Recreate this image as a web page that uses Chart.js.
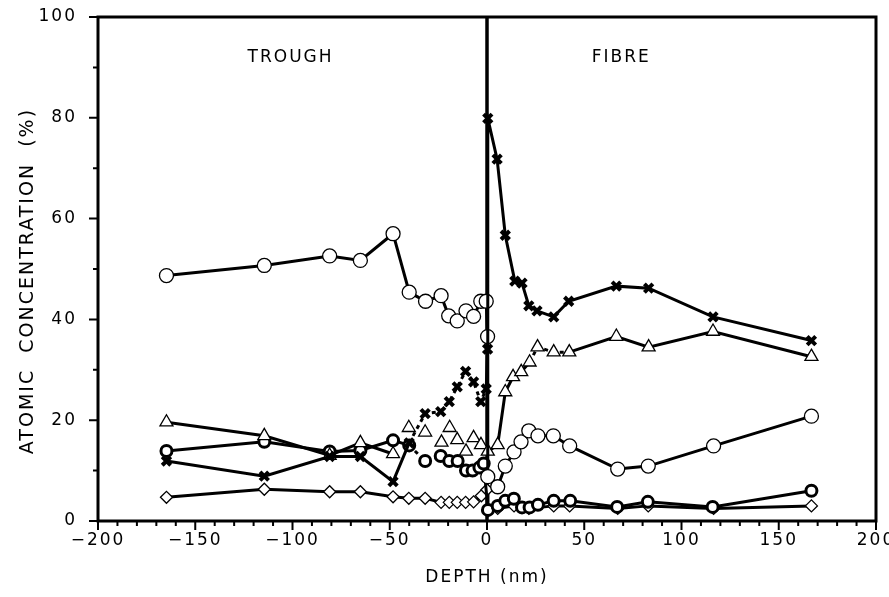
<!DOCTYPE html>
<html>
<head>
<meta charset="utf-8">
<script src="https://cdn.jsdelivr.net/npm/chart.js@4.4.1/dist/chart.umd.min.js"></script>
<style>
  html, body { margin: 0; padding: 0; background: #fff; }
</style>
</head>
<body>
<canvas id="depthChart" width="889" height="597"></canvas>
<script>
// open circles (top series in trough, lower series in fibre)
const circleDepth = [-164.8, -114.5, -80.9, -65.1, -48.3, -40, -31.6, -23.6, -19.7, -15.3, -10.8, -6.9, -3.2, -0.4, 0.3, 0.4, 5.5, 9.4, 13.9, 17.5, 21.5, 26.2, 34.1, 42.5, 67.2, 82.9, 116.5, 166.8];
const circleConc = [48.7, 50.7, 52.6, 51.7, 57, 45.4, 43.6, 44.7, 40.7, 39.7, 41.7, 40.6, 43.6, 43.6, 36.6, 8.8, 6.8, 10.9, 13.7, 15.7, 17.9, 16.9, 16.9, 14.9, 10.3, 10.9, 14.9, 20.8];

// crosses
const crossDepth = [-164.8, -114.5, -80.9, -65.1, -48.3, -40, -31.8, -23.8, -19.4, -15.3, -11, -6.9, -3.2, -0.4, 0.3, 0.4, 5.2, 9.4, 14.3, 18, 21.5, 25.7, 34.3, 42, 66.5, 83.1, 116.2, 166.8];
const crossConc = [11.9, 8.9, 12.8, 12.8, 7.8, 15.5, 21.3, 21.7, 23.7, 26.6, 29.7, 27.6, 23.7, 26.2, 34.1, 79.9, 71.8, 56.7, 47.6, 47.2, 42.7, 41.7, 40.5, 43.6, 46.6, 46.2, 40.5, 35.8];

// triangles
const triDepth = [-164.8, -114.5, -80.9, -65.1, -48.3, -40.2, -31.8, -23.4, -19.2, -15.3, -10.8, -6.9, -3.1, 0.4, 5.5, 9.4, 13.4, 17.6, 21.9, 26, 34.3, 42.3, 66.5, 83.1, 116.2, 166.8];
const triConc = [19.6, 16.9, 13, 15.5, 13.3, 18.5, 17.6, 15.6, 18.5, 16.1, 13.8, 16.5, 15.1, 13.8, 15.1, 25.6, 28.6, 29.6, 31.5, 34.5, 33.5, 33.5, 36.6, 34.5, 37.6, 32.6];

// bold circles
const boldDepth = [-164.8, -114.5, -80.9, -65.1, -48.3, -40, -31.8, -23.8, -19.4, -15.1, -10.8, -7.4, -3.9, -1.7, 0.5, 5.5, 9.4, 13.8, 18, 21.9, 26.2, 34.3, 42.8, 66.9, 82.7, 116, 166.8];
const boldConc = [13.9, 15.7, 13.8, 14, 16, 15, 11.9, 12.9, 11.9, 11.9, 10, 10, 10.6, 11.4, 2.2, 3, 4, 4.4, 2.7, 2.7, 3.2, 4, 4, 2.8, 3.8, 2.8, 6];

// diamonds
const diaDepth = [-164.8, -114.5, -80.9, -65.1, -48.3, -40.2, -31.8, -23.6, -19.4, -15.3, -11, -6.9, -2.9, 0, 0.5, 5.5, 13.9, 21.5, 34.3, 42.5, 67.2, 82.9, 116.5, 166.8];
const diaConc = [4.7, 6.3, 5.8, 5.8, 4.8, 4.5, 4.5, 3.7, 3.7, 3.7, 3.7, 3.8, 5, 6.2, 2, 2.5, 3, 2.5, 3, 3, 2.5, 3, 2.5, 3];

const xTickValues = [-200, -150, -100, -50, 0, 50, 100, 150, 200];
const yTickValues = [0, 20, 40, 60, 80, 100];

const pts = (xs, ys) => xs.map((x, i) => ({ x: x, y: ys[i] }));
const dashBetween = (lo, hi) => c =>
    c.p0.parsed.x >= lo && c.p1.parsed.x <= hi ? [4, 4] : undefined;

const baseSet = {
    showLine: true,
    borderColor: '#000',
    borderWidth: 3,
    pointBorderColor: '#000',
    pointBackgroundColor: '#fff',
    fill: false
};

const frame = {
    id: 'frame',
    beforeDraw(chart) {
        chart.ctx.letterSpacing = '2px';
    },
    beforeDatasetsDraw(chart) {
        const { ctx, chartArea: a, scales: { x } } = chart;
        const px = x.getPixelForValue(0);
        ctx.save();
        ctx.strokeStyle = '#000';
        ctx.lineWidth = 3.5;
        ctx.beginPath();
        ctx.moveTo(px, a.top);
        ctx.lineTo(px, a.bottom);
        ctx.stroke();
        ctx.restore();
    },
    afterDraw(chart) {
        const { ctx, chartArea: a, scales: { x, y } } = chart;
        ctx.save();
        ctx.strokeStyle = '#000';
        ctx.lineWidth = 3;
        ctx.strokeRect(a.left, a.top, a.right - a.left, a.bottom - a.top);
        ctx.lineWidth = 2;
        ctx.beginPath();
        for (let v = -200; v <= 200; v += 10) {
            const p = x.getPixelForValue(v);
            const len = v % 50 === 0 ? 9 : 5;
            ctx.moveTo(p, a.bottom);
            ctx.lineTo(p, a.bottom + len);
        }
        for (let v = 0; v <= 100; v += 10) {
            const p = y.getPixelForValue(v);
            const len = v % 20 === 0 ? 9 : 5;
            ctx.moveTo(a.left, p);
            ctx.lineTo(a.left - len, p);
        }
        ctx.stroke();
        ctx.fillStyle = '#000';
        ctx.font = '17px "DejaVu Sans"';
        ctx.textAlign = 'center';
        ctx.textBaseline = 'middle';
        ctx.fillText('TROUGH', x.getPixelForValue(-101), y.getPixelForValue(92));
        ctx.fillText('FIBRE', x.getPixelForValue(69), y.getPixelForValue(92));
        ctx.restore();
    }
};

new Chart(document.getElementById('depthChart'), {
    type: 'scatter',
    data: {
        datasets: [
            { ...baseSet, data: pts(crossDepth, crossConc), pointStyle: 'crossRot', pointRadius: 6, pointBorderWidth: 4,
              segment: { borderDash: dashBetween(-42, 0) } },
            { ...baseSet, data: pts(circleDepth, circleConc), pointStyle: 'circle', pointRadius: 7, pointBorderWidth: 1.3 },
            { ...baseSet, data: pts(triDepth, triConc), pointStyle: 'triangle', pointRadius: 7.5, pointBorderWidth: 1.3,
              segment: {
                  borderColor: c => (c.p0.parsed.x >= -49 && c.p1.parsed.x <= 1 ? 'rgba(0,0,0,0)' : undefined),
                  borderDash: dashBetween(20, 43)
              } },
            { ...baseSet, data: pts(boldDepth, boldConc), pointStyle: 'circle', pointRadius: 5.5, pointBorderWidth: 3,
              segment: { borderDash: dashBetween(-41, 0) } },
            { ...baseSet, data: pts(diaDepth, diaConc), pointStyle: 'rectRot', pointRadius: 6, pointBorderWidth: 1.3 }
        ]
    },
    options: {
        responsive: false,
        animation: false,
        layout: { padding: { top: 17, right: 13, left: 0, bottom: 0 } },
        plugins: { legend: { display: false }, tooltip: { enabled: false } },
        scales: {
            x: {
                type: 'linear',
                min: -200,
                max: 200,
                afterFit: s => { s.height = 76; s.paddingLeft = 0; s.paddingRight = 0; },
                afterBuildTicks: s => { s.ticks = xTickValues.map(v => ({ value: v })); },
                grid: { display: false, drawTicks: false },
                border: { display: false },
                ticks: {
                    color: '#000',
                    padding: 9,
                    font: { family: 'DejaVu Sans', size: 17 },
                    callback: v => (v < 0 ? '\u2212' + Math.abs(v) : String(v))
                },
                title: {
                    display: true,
                    text: 'DEPTH (nm)',
                    color: '#000',
                    font: { family: 'DejaVu Sans', size: 17 },
                    padding: { top: 0, bottom: 9 }
                }
            },
            y: {
                min: 0,
                max: 100,
                afterFit: s => { s.width = 98; s.paddingTop = 0; s.paddingBottom = 0; },
                afterBuildTicks: s => { s.ticks = yTickValues.map(v => ({ value: v })); },
                grid: { display: false, drawTicks: false },
                border: { display: false },
                ticks: {
                    color: '#000',
                    padding: 21,
                    font: { family: 'DejaVu Sans', size: 17 }
                },
                title: {
                    display: true,
                    text: 'ATOMIC  CONCENTRATION  (%)   ',
                    color: '#000',
                    font: { family: 'DejaVu Sans', size: 19 },
                    padding: { top: 17, bottom: 0 }
                }
            }
        }
    },
    plugins: [frame]
});
</script>
</body>
</html>
